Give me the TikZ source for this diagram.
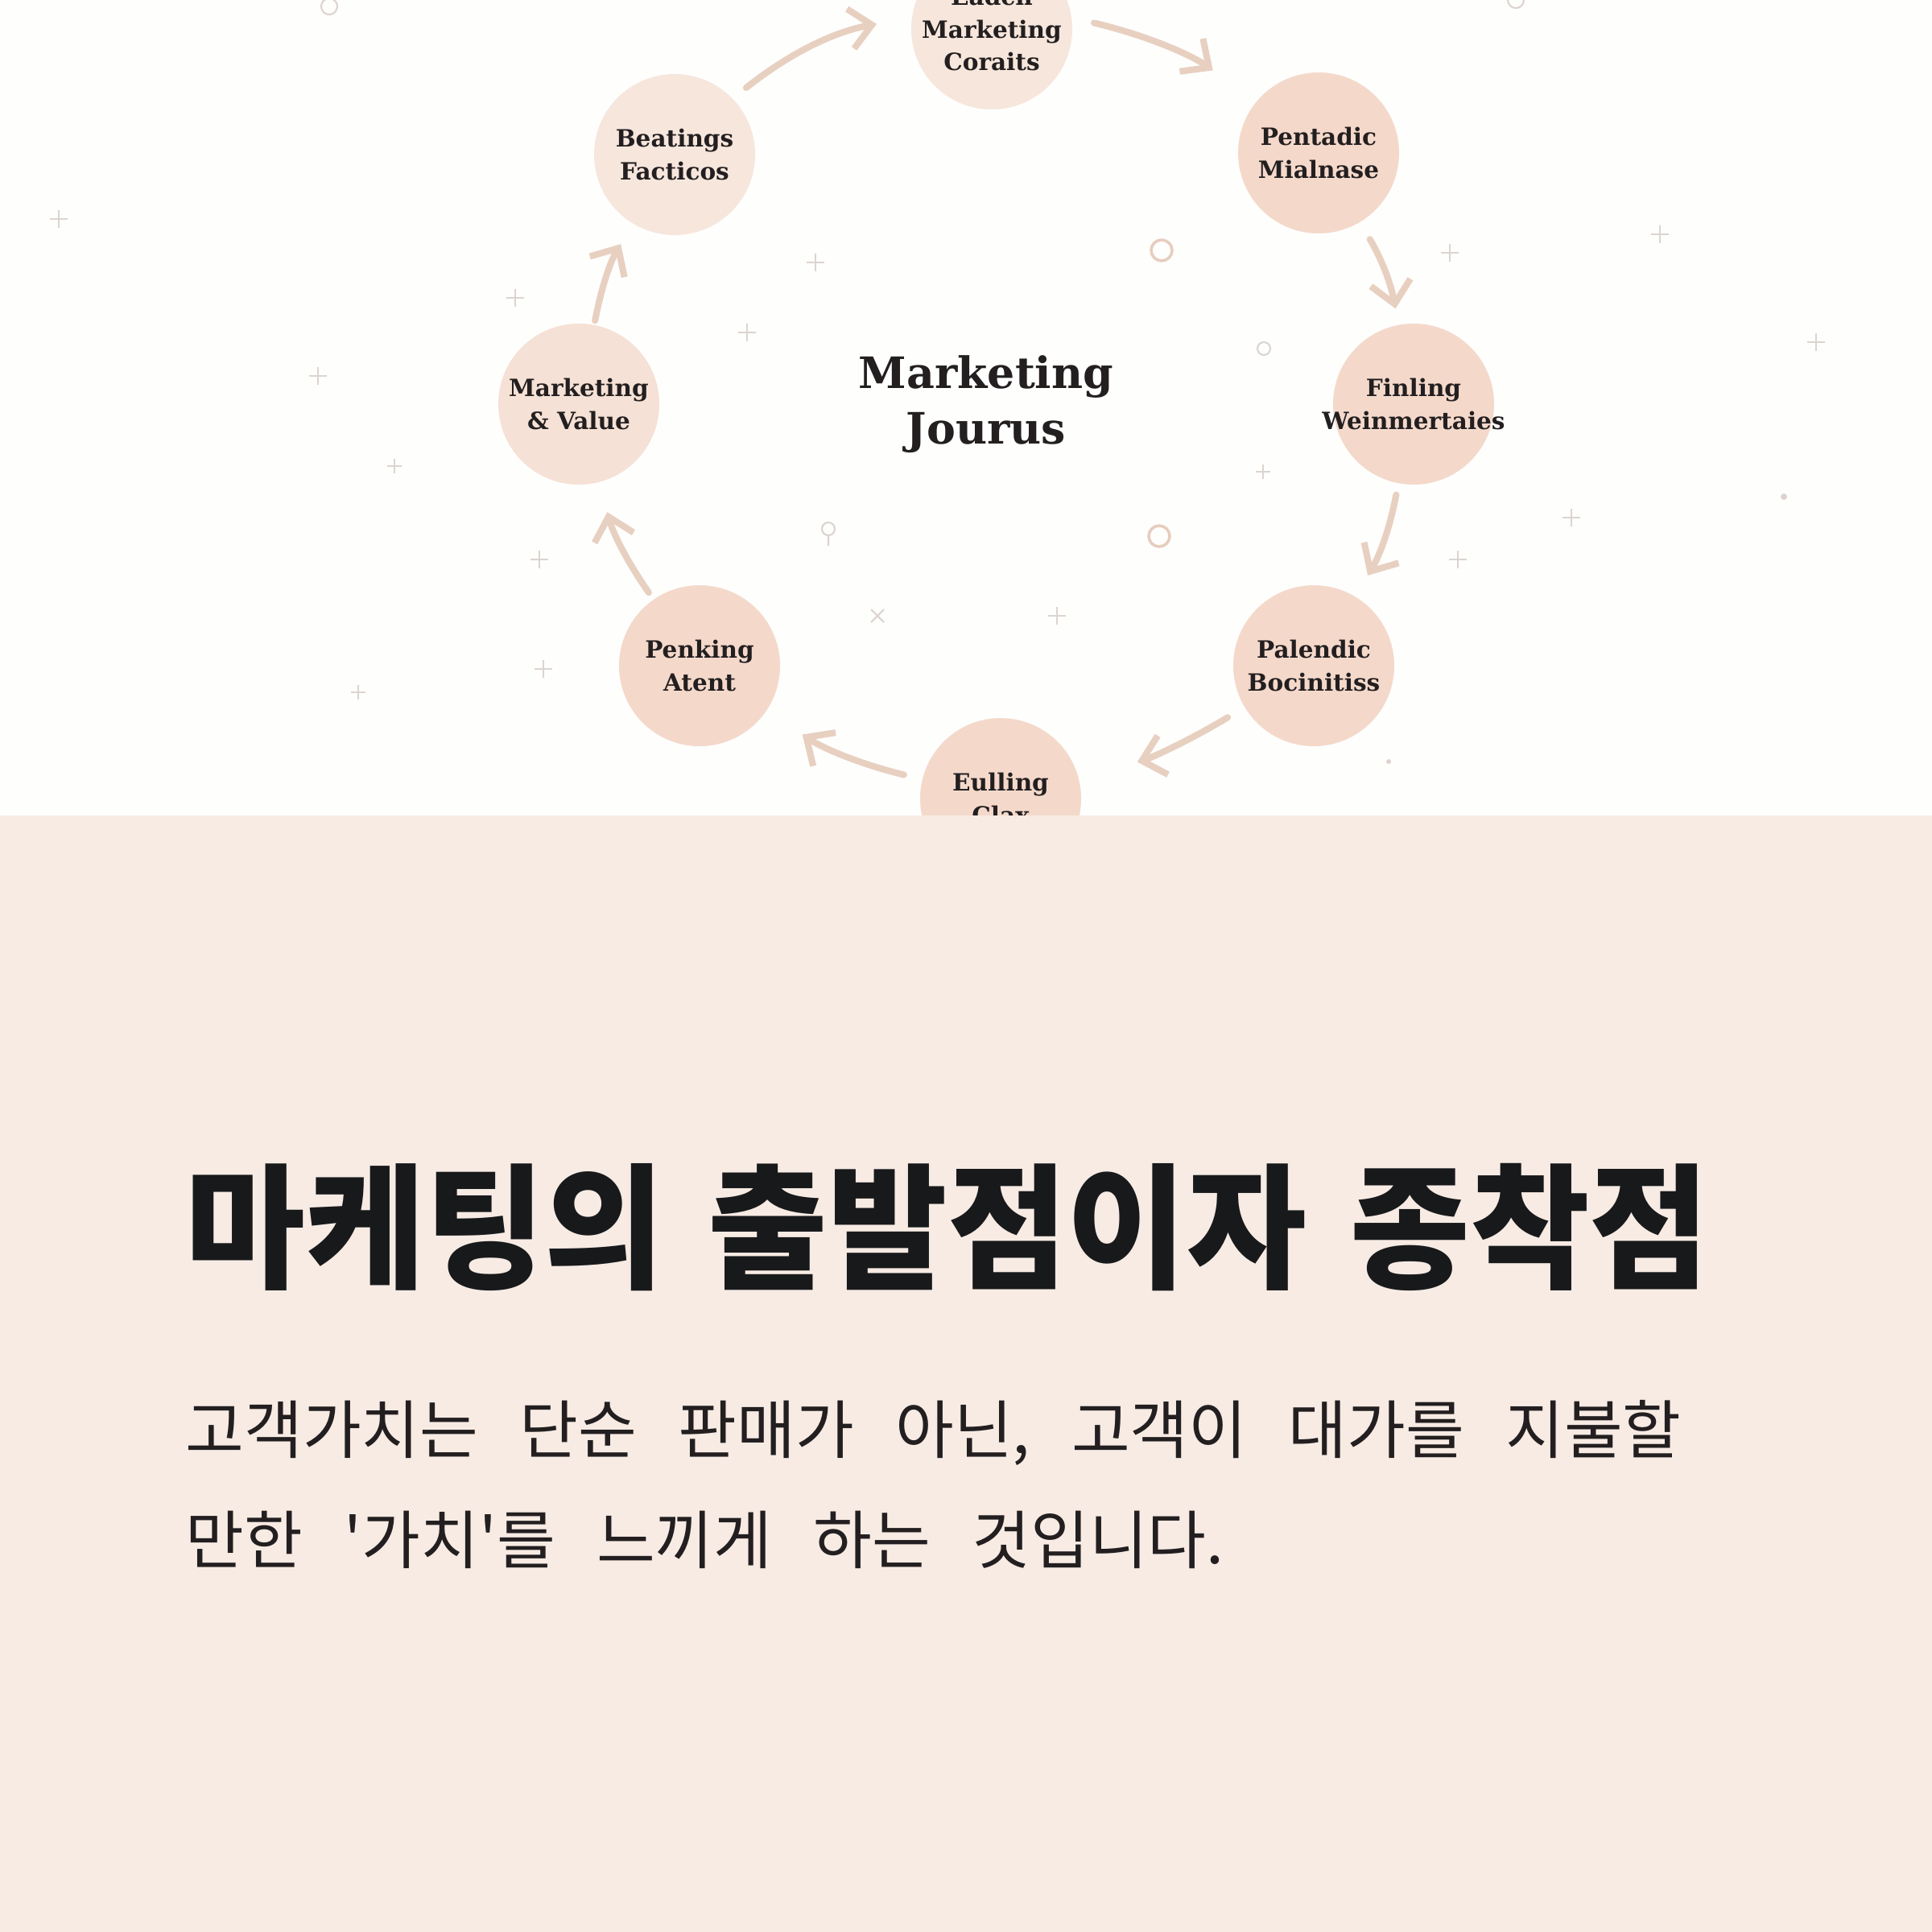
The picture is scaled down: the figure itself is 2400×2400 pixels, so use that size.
\documentclass[tikz,border=0pt]{standalone}
\usepackage{fontspec}
\setmainfont{DejaVu Serif}
\newfontfamily\krhead{Noto Sans CJK KR}
\newfontfamily\krbody[WordSpace=2.9]{Noto Sans CJK KR}
\usetikzlibrary{arrows.meta}
\definecolor{peach}{HTML}{F4D9CB}
\definecolor{peachpale}{HTML}{F6E6DC}
\definecolor{flowtan}{HTML}{E8D0C1}
\definecolor{panel}{HTML}{F7EBE4}
\definecolor{ink}{HTML}{231F20}
\definecolor{headink}{HTML}{18191B}
\definecolor{speckgrey}{HTML}{DCD4CF}
\definecolor{specktan}{HTML}{E6CDBD}

\begin{document}
\begin{tikzpicture}[x=0.1mm, y=-0.1mm,
	stage/.style={circle, fill=peach, minimum size=20mm, inner sep=-2mm, align=center,
		text=ink, font=\bfseries\fontsize{8.4}{11.4}\selectfont},
	flow/.style={draw=flowtan, line width=2.3pt, line cap=round,
		-{Straight Barb[length=2.7mm, width=5mm, line width=2.3pt]}},
	speck/.style={draw=speckgrey, line width=0.6pt}]
		\useasboundingbox (0,0) rectangle (2400,2400);
		\clip (0,0) rectangle (2400,2400);
		\fill[white!70!panel!20!white] (0,0) rectangle (2400,1013);
		% scattered marks
		\foreach \px/\py in {73/272, 640/370, 1013/326, 1801/314, 2062/291, 2256/425,
			395/467, 928/413, 1952/643, 670/695, 1811/695, 1313/765, 675/831} {
			\draw[speck] (\px-11,\py) -- (\px+11,\py) (\px,\py-11) -- (\px,\py+11);
		}
		\foreach \px/\py in {490/579, 1569/586, 445/860} {
			\draw[speck, line width=0.4pt] (\px-9,\py) -- (\px+9,\py) (\px,\py-9) -- (\px,\py+9);
		}
		\draw[speck] (1082,757) -- (1098,773) (1082,773) -- (1098,757);
		\draw[specktan, line width=1pt] (1443,311) circle (13) (1440,666) circle (13);
		\draw[speck] (1570,433) circle (8) (409,8) circle (10) (1883,0) circle (10);
		\draw[speck] (1029,657) circle (8) (1029,665) -- (1029,678);
		\fill[speckgrey] (2216,617) circle (4) (1725,946) circle (3);
		% the ring
		\node[stage, fill=peachpale] (coraits) at (1232,36) {Eadch\\Marketing\\Coraits};
		\node[stage] (mialnase) at (1638,190) {Pentadic\\Mialnase};
		\node[stage] (weinmert) at (1756,502) {Finling\\Weinmertaies};
		\node[stage] (bocinit) at (1632,827) {Palendic\\Bocinitiss};
		\node[stage] (clax) at (1243,992) {Eulling\\Clax};
		\node[stage] (atent) at (869,827) {Penking\\Atent};
		\node[stage, fill=peachpale!60!peach] (value) at (719,502) {Marketing\\\& Value};
		\node[stage, fill=peachpale] (facticos) at (838,192) {Beatings\\Facticos};
		\node[text=ink, align=center, font=\bfseries\fontsize{15.3}{19.6}\selectfont]
			(jourus) at (1225,502) {Marketing\\Jourus};
		\draw[flow, shorten <=2.8mm, shorten >=6.6mm] (coraits.8) to[bend left=11] (mialnase);
		\draw[flow, shorten <=2.4mm, shorten >=2mm] (mialnase) to[bend left=10] (weinmert);
		\draw[flow, shorten <=1.4mm, shorten >=3mm] (weinmert) to[bend left=10] (bocinit);
		\draw[flow, shorten <=2.4mm, shorten >=7.5mm] (bocinit) to[bend left=8] (clax);
		\draw[flow, shorten <=2.3mm, shorten >=5.3mm] (clax) to[bend left=10] (atent);
		\draw[flow, shorten <=1mm, shorten >=3.8mm] (atent) to[bend left=10] (value);
		\draw[flow, shorten <=0.5mm, shorten >=2.9mm] (value) to[bend left=10] (facticos);
		\draw[flow, shorten <=2.1mm, shorten >=4.4mm] (facticos) to[bend left=14] (coraits.172);
		% lower panel
		\fill[panel] (0,1013) rectangle (2400,2400);
		\node[anchor=west, inner sep=0pt, text=headink,
			font=\krhead\bfseries\fontsize{46}{54}\selectfont, yscale=1.04, transform shape]
			(headline) at (230,1525) {마케팅의\hspace{5.4mm}출발점이자\hspace{5.4mm}종착점};
		\node[anchor=west, inner sep=0pt, text=ink, font=\krbody\fontsize{22.5}{30}\selectfont]
			(bodyone) at (230,1780) {고객가치는 단순 판매가 아닌, 고객이 대가를 지불할};
		\node[anchor=west, inner sep=0pt, text=ink, font=\krbody\fontsize{22.5}{30}\selectfont]
			(bodytwo) at (230,1913) {만한 \textquotesingle 가치\textquotesingle 를 느끼게 하는 것입니다.};
	\end{tikzpicture}
\end{document}
